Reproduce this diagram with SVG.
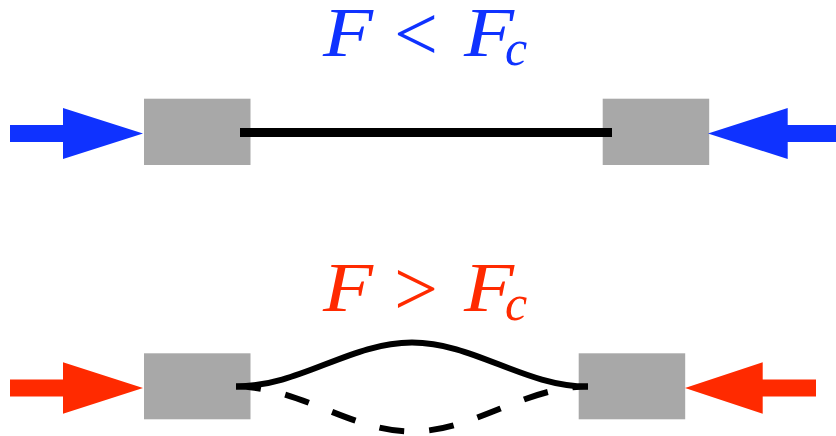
<svg xmlns="http://www.w3.org/2000/svg" width="836" height="436" viewBox="0 0 836 436">
<style>
.box{fill:#a8a8a8}
.blue{fill:#0f32ff}
.red{fill:#ff2a00}
.wire{fill:none;stroke:#000;stroke-width:6}
.dash{fill:none;stroke:#000;stroke-width:6;stroke-dasharray:25 25}
text{font-family:"Liberation Serif","Times New Roman",serif;font-size:70px}
.i{font-style:italic}
.s{font-style:italic;font-size:50px}
.o{font-size:78px}
</style>
<rect width="836" height="436" fill="#fff"/>
<g id="label-top"><text class="blue" y="56"><tspan class="i" x="323" textLength="50" lengthAdjust="spacingAndGlyphs">F</tspan><tspan class="o" x="394" y="60"> </tspan><tspan class="o" x="394" y="60">&lt;</tspan><tspan class="i" x="464" y="56" textLength="50" lengthAdjust="spacingAndGlyphs">F</tspan><tspan class="s" x="505" y="65">c</tspan></text></g>
<g id="label-bottom"><text class="red" y="311"><tspan class="i" x="323" textLength="50" lengthAdjust="spacingAndGlyphs">F</tspan><tspan class="o" x="394" y="315"> </tspan><tspan class="o" x="394" y="315">&gt;</tspan><tspan class="i" x="464" y="311" textLength="50" lengthAdjust="spacingAndGlyphs">F</tspan><tspan class="s" x="505" y="320">c</tspan></text></g>
<g id="block-top-left"><rect class="box" x="144" y="98.700" width="106.500" height="66.300"/></g>
<g id="block-top-right"><rect class="box" x="602.700" y="98.700" width="106.500" height="66.300"/></g>
<g id="block-bottom-left"><rect class="box" x="144" y="353.300" width="106.500" height="66"/></g>
<g id="block-bottom-right"><rect class="box" x="578.700" y="353.300" width="106.500" height="66"/></g>
<g id="arrow-top-left"><path class="blue" d="M10 125H63V108L143 133.500L63 159V142H10Z"/></g>
<g id="arrow-top-right"><path class="blue" d="M836 125H787.700V108L708 133.500L787.700 159V142H836Z"/></g>
<g id="arrow-bottom-left"><path class="red" d="M10 379.500H63V362.300L143 388L63 413.700V396.500H10Z"/></g>
<g id="arrow-bottom-right"><path class="red" d="M816 379.500H762.700V362.300L685 388L762.700 413.700V396.500H816Z"/></g>
<g id="connectors">
<path d="M240 132.600H612" fill="none" stroke="#000" stroke-width="9"/>
<path class="wire" d="M236 386.500C300 386.500 350 342.500 412 342.500C474 342.500 524 386.500 588 386.500"/>
<path class="dash" d="M236 386.500C300 386.500 350 431.500 412 431.500C474 431.500 524 386.500 588 386.500"/>
</g>
</svg>
